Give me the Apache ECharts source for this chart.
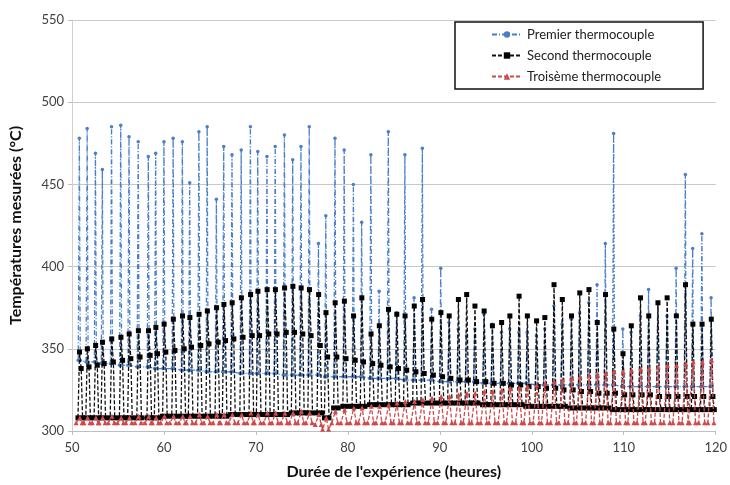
<!DOCTYPE html>
<html>
<head>
<meta charset="utf-8">
<script src="https://cdn.jsdelivr.net/npm/echarts@6/dist/echarts.min.js"></script>
<style>
html,body{margin:0;padding:0;background:#fff;}
#chart{width:730px;height:485px;}
</style>
</head>
<body>
<div id="chart"></div>
<script>
// Cycle times (hours): time of each heating spike
var cycleHours = [50.8,51.65,52.55,53.3,54.3,55.3,56.2,57.2,58.3,59.1,60.0,61.0,62.0,62.8,63.8,64.7,65.7,66.5,67.4,68.4,
  69.4,70.2,71.2,72.1,73.1,74.0,74.9,75.8,76.8,77.6,78.6,79.6,80.6,81.5,82.5,83.4,84.4,85.3,86.2,87.2,
  88.1,89.1,90.1,91.0,92.0,92.9,93.8,94.8,95.7,96.7,97.6,98.6,99.5,100.5,101.4,102.4,103.3,104.3,105.2,106.2,
  107.1,108.0,108.9,109.9,110.8,111.8,112.7,113.7,114.7,115.7,116.7,117.5,118.5,119.5];

// Premier thermocouple (blue)
var bluePeak = [478,484,469,459,485,486,479,476,467,469,476,478,476,451,482,485,441,473,468,471,
  485,470,467,473,480,465,473,485,414,431,478,471,450,427,468,385,482,372,468,381,
  472,374,399,366,362,358,362,371,365,360,362,360,360,358,362,376,365,368,372,378,
  389,414,481,362,360,370,386,378,370,399,456,411,420,381];
var blueBase = [343,342,342,341,341,340,340,339,339,338,338,338,337,337,337,336,336,336,336,335,
  335,335,335,335,334,334,334,334,334,333,333,333,333,333,332,332,332,332,331,331,
  331,331,330,330,330,330,330,329,329,329,329,329,329,328,328,328,328,328,328,328,
  328,328,328,327,327,327,327,327,327,327,327,327,327,327];

// Second thermocouple (black)
var blackPeak = [348,350,352,354,356,357,359,361,361,363,365,368,370,369,371,373,375,377,378,381,
  383,385,386,386,387,388,387,386,383,372,378,379,370,381,359,364,374,371,370,376,
  380,368,372,370,380,383,376,373,364,366,370,382,370,367,369,389,380,370,384,386,
  366,383,362,347,364,381,370,378,381,370,389,365,365,368];
var blackMid = [338,339,340,341,342,343,344,345,346,347,348,349,350,351,352,353,354,355,356,357,
  358,358,359,359,360,360,359,358,352,345,345,344,343,342,341,340,339,338,337,336,
  335,334,333,332,331,331,330,330,329,329,328,328,327,327,326,326,325,325,324,324,
  323,323,323,322,322,322,322,321,321,321,321,321,321,321];
var blackBase = [308,308,308,308,308,308,308,308,308,308,309,309,309,309,309,309,309,309,310,310,
  310,310,310,310,310,311,311,311,311,308,314,315,315,315,316,316,316,316,316,317,
  317,317,317,317,317,317,317,316,316,316,316,316,315,315,315,315,315,314,314,314,
  314,314,313,313,313,313,313,313,313,313,313,313,313,313];

// Troisème thermocouple (red)
var redPeak = [308,308,308,308,309,308,308,309,309,308,309,309,309,309,310,309,310,310,310,310,
  311,310,311,311,311,311,312,311,310,308,312,313,314,314,315,315,316,317,318,318,
  319,320,321,321,322,323,323,324,324,325,326,326,327,328,329,330,331,332,333,334,
  334,335,336,336,337,338,338,339,340,340,341,342,342,343];
var redBase = [305,305,305,305,305,305,305,305,305,305,305,305,305,305,305,305,305,305,305,305,
  305,305,305,305,305,305,305,305,304,301,305,305,305,305,305,305,305,305,305,305,
  305,305,305,305,305,305,305,305,305,305,305,305,305,305,305,305,305,305,305,305,
  305,305,305,305,305,305,305,305,305,305,305,305,305,305];

var xTicks = [50,60,70,80,90,100,110,120];
var yTicks = [300,350,400,450,500,550];

// Build [hour, value] points per cycle: flat base, fast rise to the peak, fall back
function buildBlue(){
  var d=[];
  for(var i=0;i<cycleHours.length;i++){
    var t=cycleHours[i];
    d.push([t-0.12, blueBase[i]]);
    d.push([t, bluePeak[i]]);
    d.push([t+0.1, blueBase[i]]);
  }
  return d;
}
function buildBlack(){
  var d=[];
  for(var i=0;i<cycleHours.length;i++){
    var t=cycleHours[i];
    d.push([t-0.15, blackBase[i]]);
    d.push([t+0.02, blackPeak[i]]);
    d.push([t+0.2, blackMid[i]]);
    d.push([t+0.35, blackBase[i]]);
  }
  return d;
}
function buildRed(){
  var d=[];
  for(var i=0;i<cycleHours.length;i++){
    var t=cycleHours[i];
    d.push([t-0.35, redBase[i]]);
    d.push([t+0.05, redPeak[i]]);
    d.push([t+0.3, redBase[i]]);
  }
  return d;
}

var FONT = 'Lato, "Open Sans", sans-serif';
var chart = echarts.init(document.getElementById('chart'), null, {renderer:'canvas'});
chart.setOption({
  animation:false,
  backgroundColor:'#ffffff',
  textStyle:{fontFamily:FONT},
  grid:{left:68, right:14, top:20, bottom:53},
  legend:{
    orient:'vertical',
    left:455, top:22,
    padding:[6,42,6,36],
    backgroundColor:'#ffffff',
    borderColor:'#111111',
    borderWidth:1.5,
    itemWidth:30, itemHeight:8, itemGap:8,
    textStyle:{fontFamily:FONT, fontSize:13, color:'#222222'},
    data:['Premier thermocouple','Second thermocouple','Troisème thermocouple']
  },
  xAxis:{
    type:'value', min:xTicks[0], max:xTicks[xTicks.length-1], interval:10,
    name:"Durée de l'expérience (heures)", nameLocation:'middle', nameGap:33,
    nameTextStyle:{fontFamily:FONT, fontSize:16, fontWeight:'bold', color:'#111'},
    axisLine:{lineStyle:{color:'#bfbfbf', width:1}},
    axisTick:{show:true, length:4, lineStyle:{color:'#bfbfbf'}},
    axisLabel:{fontSize:13, color:'#404040', margin:10},
    splitLine:{show:false}
  },
  yAxis:{
    type:'value', min:yTicks[0], max:yTicks[yTicks.length-1], interval:50,
    name:'Températures mesurées (°C)', nameLocation:'middle', nameGap:48,
    nameTextStyle:{fontFamily:FONT, fontSize:16, fontWeight:'bold', color:'#111'},
    axisLine:{show:true, lineStyle:{color:'#d0d0d0'}},
    axisTick:{show:true, length:4, lineStyle:{color:'#bfbfbf'}},
    axisLabel:{fontSize:13, color:'#404040', margin:8},
    splitLine:{show:true, lineStyle:{color:'#c8c8c8', width:1}}
  },
  series:[
    {
      name:'Premier thermocouple', type:'line', data:buildBlue(),
      symbol:'circle', symbolSize:3.5, showSymbol:true,
      lineStyle:{color:'#4a7fc8', width:1.3, type:[5,2,1,2]},
      itemStyle:{color:'#4a7fc8'}, z:2
    },
    {
      name:'Second thermocouple', type:'line', data:buildBlack(),
      symbol:'rect', symbolSize:5, showSymbol:true,
      lineStyle:{color:'#111111', width:1.3, type:[4,2]},
      itemStyle:{color:'#000000'}, z:3
    },
    {
      name:'Troisème thermocouple', type:'line', data:buildRed(),
      symbol:'triangle', symbolSize:5, showSymbol:true,
      lineStyle:{color:'#d04a4a', width:1.3, type:[4,2]},
      itemStyle:{color:'#d04a4a'}, z:4
    }
  ]
});
</script>
</body>
</html>
